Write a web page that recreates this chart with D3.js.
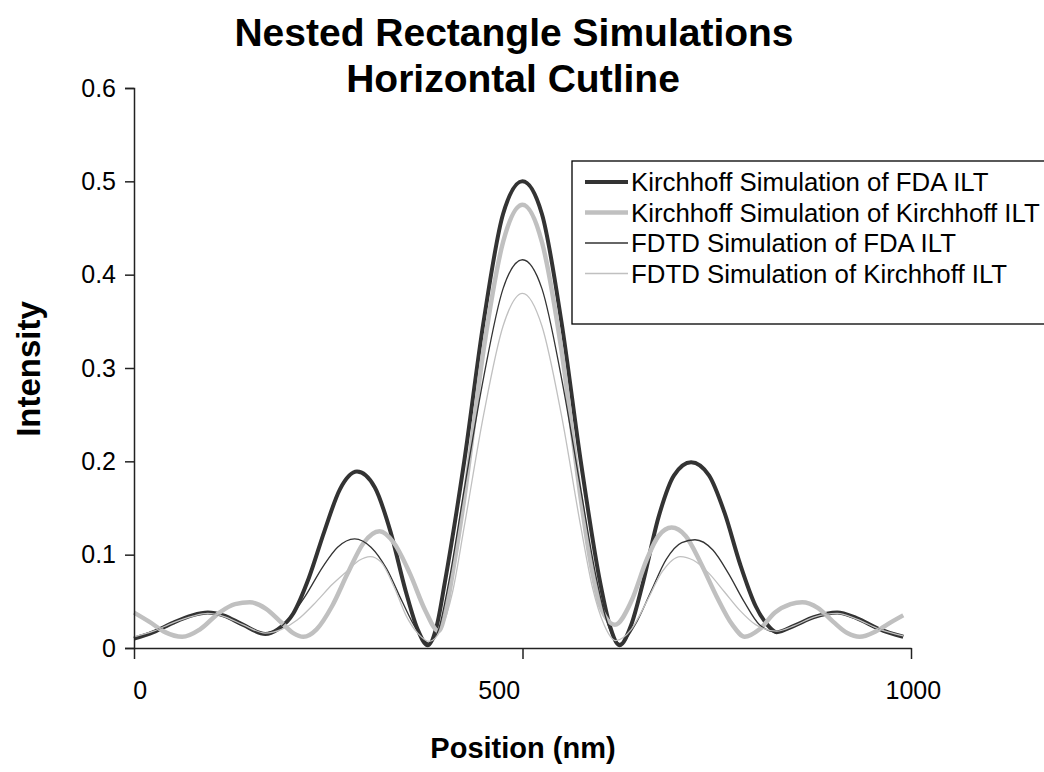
<!DOCTYPE html>
<html>
<head>
<meta charset="utf-8">
<script src="https://cdn.jsdelivr.net/npm/d3@7"></script>
<style>
  body { margin: 0; background: #fff; }
  svg { font-family: "Liberation Sans", Arial, sans-serif; }
</style>
</head>
<body>
<div id="chart"></div>
<script>
// positions (nm) and intensity, one array pair per series
let kfdaX = [0, 25, 50, 75, 95, 115, 140, 169, 185, 205, 225, 245, 265, 287, 310, 330, 350, 365, 378, 390, 400, 425, 450, 475, 500, 525, 550, 575, 600, 612, 625, 640, 655, 675, 695, 717, 740, 760, 780, 800, 815, 827, 850, 875, 905, 930, 960, 990];
let kfdaY = [0.010, 0.017, 0.027, 0.035, 0.038, 0.035, 0.025, 0.015, 0.020, 0.037, 0.075, 0.125, 0.170, 0.189, 0.172, 0.125, 0.060, 0.020, 0.003, 0.025, 0.070, 0.200, 0.350, 0.465, 0.500, 0.465, 0.350, 0.200, 0.070, 0.025, 0.003, 0.025, 0.070, 0.140, 0.185, 0.199, 0.185, 0.145, 0.090, 0.045, 0.025, 0.017, 0.024, 0.033, 0.038, 0.032, 0.020, 0.012];

let kkX = [0, 20, 40, 62, 85, 110, 130, 149, 170, 190, 205, 218, 235, 255, 275, 295, 316, 335, 355, 375, 392, 400, 412, 425, 450, 475, 500, 525, 550, 575, 588, 600, 619, 640, 660, 675, 692, 710, 730, 750, 770, 786, 805, 825, 845, 860, 880, 900, 918, 934, 955, 975, 990];
let kkY = [0.038, 0.028, 0.017, 0.012, 0.020, 0.038, 0.047, 0.049, 0.042, 0.027, 0.016, 0.012, 0.020, 0.045, 0.080, 0.112, 0.125, 0.112, 0.080, 0.040, 0.018, 0.035, 0.090, 0.160, 0.320, 0.435, 0.475, 0.435, 0.320, 0.160, 0.090, 0.045, 0.025, 0.050, 0.095, 0.120, 0.129, 0.120, 0.090, 0.055, 0.025, 0.012, 0.020, 0.038, 0.047, 0.049, 0.043, 0.028, 0.016, 0.012, 0.018, 0.028, 0.035];

let ffdaX = [0, 25, 50, 75, 95, 115, 140, 169, 185, 200, 220, 243, 262, 284, 305, 325, 345, 362, 380, 392, 405, 425, 450, 475, 500, 525, 550, 575, 595, 610, 625, 645, 665, 685, 705, 722, 745, 765, 785, 805, 827, 850, 875, 905, 930, 960, 990];
let ffdaY = [0.011, 0.018, 0.027, 0.035, 0.037, 0.034, 0.025, 0.016, 0.020, 0.032, 0.055, 0.087, 0.108, 0.117, 0.108, 0.085, 0.050, 0.022, 0.005, 0.020, 0.070, 0.170, 0.290, 0.385, 0.416, 0.385, 0.290, 0.170, 0.075, 0.025, 0.005, 0.025, 0.060, 0.095, 0.113, 0.116, 0.105, 0.080, 0.050, 0.025, 0.017, 0.024, 0.033, 0.037, 0.031, 0.020, 0.013];

let fkX = [0, 25, 50, 75, 95, 115, 140, 169, 190, 210, 235, 255, 275, 290, 304, 318, 335, 350, 365, 380, 395, 410, 425, 450, 475, 500, 525, 550, 575, 590, 605, 620, 640, 660, 680, 703, 720, 740, 760, 780, 800, 827, 850, 875, 905, 930, 960, 990];
let fkY = [0.012, 0.018, 0.027, 0.034, 0.037, 0.034, 0.025, 0.016, 0.020, 0.030, 0.050, 0.068, 0.083, 0.094, 0.098, 0.092, 0.065, 0.035, 0.016, 0.007, 0.020, 0.060, 0.130, 0.250, 0.345, 0.380, 0.345, 0.250, 0.130, 0.065, 0.025, 0.008, 0.020, 0.050, 0.082, 0.098, 0.094, 0.080, 0.060, 0.040, 0.025, 0.018, 0.024, 0.033, 0.037, 0.031, 0.020, 0.013];

let seriesNames = ["Kirchhoff Simulation of FDA ILT", "Kirchhoff Simulation of Kirchhoff ILT", "FDTD Simulation of FDA ILT", "FDTD Simulation of Kirchhoff ILT"];
let yTicks = [0, 0.1, 0.2, 0.3, 0.4, 0.5, 0.6];
let xTicks = [0, 500, 1000];
let xTickLabels = ["0", "500", "1000"];
let xLabelAt = [8, 470, 1003];   // excel drew the category labels a bit off the ticks

function nestedChart() {
    let width = 1044, height = 772;
    let margin = {top: 88, right: 133, bottom: 124, left: 134};

    let svg = d3.select("#chart").append("svg")
                .attr("width", width)
                .attr("height", height);

    let xScale = d3.scaleLinear()
                   .domain([0, 1000])
                   .range([margin.left, width - margin.right]);

    let yScale = d3.scaleLinear()
                   .domain([0, 0.6])
                   .range([height - margin.bottom, margin.top]);

    let styles = [
        {color: "#333333", w: 4},
        {color: "#c0c0c0", w: 4.5},
        {color: "#333333", w: 1.3},
        {color: "#c0c0c0", w: 1.3}
    ];
    let series = [[kfdaX, kfdaY], [kkX, kkY], [ffdaX, ffdaY], [fkX, fkY]];

    let line = d3.line()
                 .x(function(d) { return xScale(d[0]) })
                 .y(function(d) { return yScale(d[1]) })
                 .curve(d3.curveMonotoneX);

    series.forEach(function(s, i) {
        let pts = s[0].map(function(x, j) { return [x, s[1][j]] });
        svg.append("path")
           .attr("d", line(pts))
           .attr("fill", "none")
           .attr("stroke", styles[i].color)
           .attr("stroke-width", styles[i].w)
           .attr("stroke-linejoin", "round");
    });

    /* y axis */
    let yAxis = d3.axisLeft(yScale)
        .tickValues(yTicks)
        .tickFormat(function(d) { return d === 0 ? "0" : d3.format(".1f")(d) })
        .tickSize(9)
        .tickPadding(9);

    let yg = svg.append("g")
        .attr("transform", "translate(" + margin.left + ",0)")
        .call(yAxis);
    yg.selectAll("path, line").attr("stroke", "#222").attr("stroke-width", 1.5);
    yg.selectAll("text").attr("font-size", 25).attr("fill", "#000")
      .attr("font-family", "Liberation Sans, Arial, sans-serif");

    /* x axis, ticks only, labels placed by hand below */
    let xAxis = d3.axisBottom(xScale)
        .tickValues(xTicks)
        .tickFormat("")
        .tickSize(11)
        .tickSizeOuter(0);

    let xg = svg.append("g")
        .attr("transform", "translate(0," + (height - margin.bottom) + ")")
        .call(xAxis);
    xg.selectAll("path, line").attr("stroke", "#222").attr("stroke-width", 1.5);

    svg.selectAll("text.xlab")
       .data(xTickLabels)
       .enter()
       .append("text")
       .attr("class", "xlab")
       .attr("x", function(d, i) { return xScale(xLabelAt[i]) })
       .attr("y", 699)
       .attr("text-anchor", "middle")
       .attr("font-size", 25)
       .text(function(d) { return d });

    /* titles */
    svg.append("text")
       .attr("x", 514).attr("y", 46)
       .attr("text-anchor", "middle")
       .attr("font-size", 39).attr("font-weight", "bold")
       .text("Nested Rectangle Simulations");
    svg.append("text")
       .attr("x", 513).attr("y", 92)
       .attr("text-anchor", "middle")
       .attr("font-size", 39).attr("font-weight", "bold")
       .text("Horizontal Cutline");

    svg.append("text")
       .attr("transform", "translate(40,369) rotate(-90)")
       .attr("text-anchor", "middle")
       .attr("font-size", 33).attr("font-weight", "bold")
       .text("Intensity");

    svg.append("text")
       .attr("x", 523).attr("y", 758)
       .attr("text-anchor", "middle")
       .attr("font-size", 29).attr("font-weight", "bold")
       .text("Position (nm)");

    /* legend */
    let legend = svg.append("g");
    legend.append("rect")
          .attr("x", 572).attr("y", 161)
          .attr("width", 500).attr("height", 163)
          .attr("fill", "#fff")
          .attr("stroke", "#000").attr("stroke-width", 1.3);

    let rows = legend.selectAll("g.row")
          .data(seriesNames)
          .enter()
          .append("g")
          .attr("class", "row")
          .attr("transform", function(d, i) { return "translate(0," + (182 + i * 30.5) + ")" });

    rows.append("line")
        .attr("x1", 585).attr("x2", 628)
        .attr("stroke", function(d, i) { return styles[i].color })
        .attr("stroke-width", function(d, i) { return styles[i].w });

    rows.append("text")
        .attr("x", 631).attr("y", 9)
        .attr("font-size", 25.8)
        .text(function(d) { return d });
}

nestedChart();
</script>
</body>
</html>
